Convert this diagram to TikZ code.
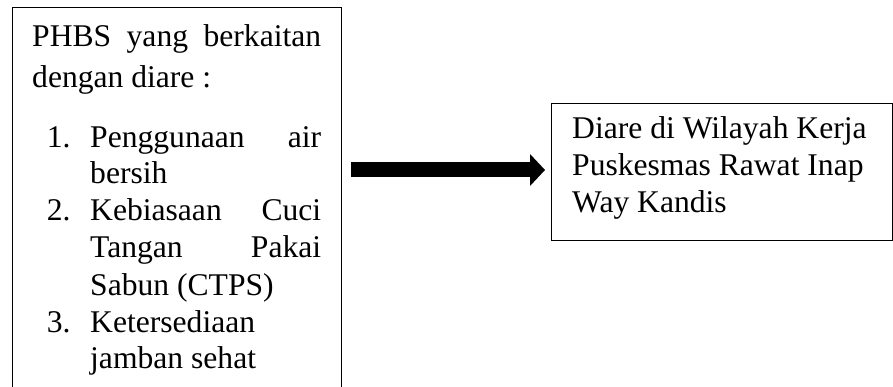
\documentclass[tikz,border=0pt]{standalone}
\usepackage{fontspec}
\setmainfont{Liberation Serif}
\usetikzlibrary{arrows.meta}
\begin{document}
\begin{tikzpicture}[x=1pt,y=1pt,
  box/.style={draw=black, line width=1pt, inner sep=0pt, anchor=north west},
  txt/.style={anchor=base west, inner sep=0pt, font=\fontsize{31.6}{37}\selectfont},
  bigarrow/.style={line width=15pt, -{Triangle[length=15pt,width=32pt,line width=0pt]}}]
\useasboundingbox (0,0) rectangle (893,-387);
\clip (0,0) rectangle (893,-387);
\fill[white] (0,0) rectangle (893,-387);
% boxes
\node[box, minimum width=329pt, minimum height=420pt] (lbox) at (12,-7.5) {};
\node[box, minimum width=341pt, minimum height=137pt] (rbox) at (551,-103) {};
% left box text
\node[txt] (l1) at (32,-46.7) {\makebox[289pt][s]{PHBS yang berkaitan}};
\node[txt] (l2) at (32,-87.3) {dengan diare :};
\node[txt] (n1) at (46.7,-147.3) {1.};
\node[txt] (i1a) at (90,-147.3) {\makebox[231pt][s]{Penggunaan air}};
\node[txt] (i1b) at (90,-184) {bersih};
\node[txt] (n2) at (46.7,-221) {2.};
\node[txt] (i2a) at (90,-221) {\makebox[231pt][s]{Kebiasaan Cuci}};
\node[txt] (i2b) at (90,-258) {\makebox[231pt][s]{Tangan Pakai}};
\node[txt] (i2c) at (90,-295) {Sabun (CTPS)};
\node[txt] (n3) at (46.7,-332) {3.};
\node[txt] (i3a) at (90,-332) {Ketersediaan};
\node[txt] (i3b) at (90,-368.5) {jamban sehat};
% right box text
\node[txt] (r1) at (572,-139) {Diare di Wilayah Kerja};
\node[txt] (r2) at (572,-176) {Puskesmas Rawat Inap};
\node[txt] (r3) at (572,-213) {Way Kandis};
% arrow
\draw[bigarrow, shorten <=9pt, shorten >=6pt] ([yshift=2pt]lbox.east |- rbox.west) -- ([yshift=2pt]rbox.west);
\end{tikzpicture}
\end{document}
